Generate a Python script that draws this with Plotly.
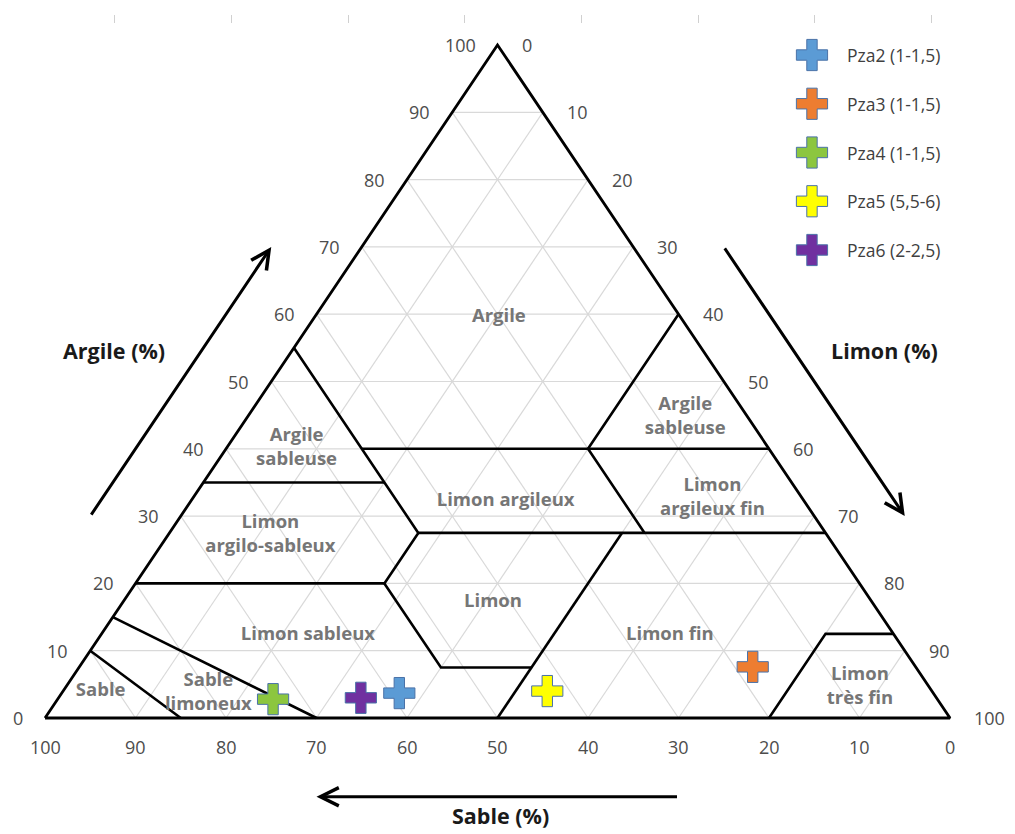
import plotly.graph_objects as go

# ---------------- data ----------------
sample_names = ["Pza2 (1-1,5)", "Pza3 (1-1,5)", "Pza4 (1-1,5)", "Pza5 (5,5-6)", "Pza6 (2-2,5)"]
sample_clay = [3.7, 7.6, 2.8, 4.0, 3.0]      # Argile (%)
sample_silt = [37.3, 74.4, 23.8, 53.5, 33.4]  # Limon (%)
sample_sand = [59.0, 18.0, 73.4, 42.5, 63.6]  # Sable (%)
sample_colors = ["#5B9BD5", "#ED7D31", "#8CC63F", "#FFFF00", "#7030A0"]

tick_values = [0, 10, 20, 30, 40, 50, 60, 70, 80, 90, 100]
grid_values = [10, 20, 30, 40, 50, 60, 70, 80, 90]

# texture-class boundaries, as (argile, limon) vertices
boundaries = [
    [(55, 0), (27.5, 27.5), (20, 27.5), (7.5, 40), (7.5, 50)],
    [(0, 50), (27.5, 50)],
    [(27.5, 27.5), (27.5, 72.5)],
    [(40, 15), (40, 60)],
    [(60, 40), (40, 40), (27.5, 52.5)],
    [(35, 0), (35, 20)],
    [(20, 0), (20, 27.5)],
    [(15, 0), (0, 30)],
    [(10, 0), (0, 15)],
    [(0, 80), (12.5, 80), (12.5, 87.5)],
]
outline = [(0, 0), (100, 0), (0, 100), (0, 0)]

# class names and their (argile, limon) anchor
class_labels = ["Argile", "Argile<br>sableuse", "Argile<br>sableuse", "Limon argileux",
                "Limon<br>argileux fin", "Limon<br>argilo-sableux", "Limon sableux", "Limon",
                "Limon fin", "Limon<br>très fin", "Sable", "Sable<br>limoneux"]
class_clay = [59.5, 40, 44.7, 32.2, 32.7, 27.2, 12.3, 17.2, 12.3, 4.5, 3.9, 3.7]
class_silt = [20.4, 7.8, 48.4, 34.8, 57.4, 11.3, 22.9, 40.9, 62.9, 87.8, 4.2, 16.2]


def tern(clay, silt):
    """ternary (argile, limon) in % -> cartesian x, y"""
    return (silt + clay / 2.0) / 100.0, clay / 100.0


FIG_W, FIG_H = 1007, 826   # page body has an 8 px margin
OFF = 8

fig = go.Figure()

# grid
gx, gy = [], []
for v in grid_values:
    for a, b in [((v, 0), (v, 100 - v)),          # argile constant
                 ((0, v), (100 - v, v)),          # limon constant
                 ((0, 100 - v), (100 - v, 0))]:   # sable constant
        x0, y0 = tern(*a)
        x1, y1 = tern(*b)
        gx += [x0, x1, None]
        gy += [y0, y1, None]
fig.add_trace(go.Scatter(x=gx, y=gy, mode="lines", line=dict(color="#d9d9d9", width=1.2),
                         hoverinfo="skip", showlegend=False))

# class boundaries
bx, by = [], []
for poly in boundaries:
    for c, s in poly:
        x, y = tern(c, s)
        bx.append(x)
        by.append(y)
    bx.append(None)
    by.append(None)
fig.add_trace(go.Scatter(x=bx, y=by, mode="lines", line=dict(color="black", width=2.6),
                         hoverinfo="skip", showlegend=False))

ox, oy = zip(*[tern(c, s) for c, s in outline])
fig.add_trace(go.Scatter(x=list(ox), y=list(oy), mode="lines", line=dict(color="black", width=2.8),
                         hoverinfo="skip", showlegend=False))

# class labels
lx, ly = zip(*[tern(c, s) for c, s in zip(class_clay, class_silt)])
fig.add_trace(go.Scatter(x=list(lx), y=list(ly), mode="text", text=class_labels,
                         textfont=dict(family="Open Sans", size=18.5, color="#767676", weight="bold"),
                         hoverinfo="skip", showlegend=False))

# samples
for name, c, s, col in zip(sample_names, sample_clay, sample_silt, sample_colors):
    x, y = tern(c, s)
    fig.add_trace(go.Scatter(x=[x], y=[y], mode="markers", name=name,
                             marker=dict(symbol="cross", size=26, color=col,
                                         line=dict(color="#4a72a8", width=1)),
                             showlegend=False))

# custom legend (on its own axes)
fig.add_trace(go.Scatter(x=[0] * len(sample_names), y=sample_names, mode="markers",
                         xaxis="x2", yaxis="y2",
                         marker=dict(symbol="cross", size=26, color=sample_colors,
                                     line=dict(color="#4a72a8", width=1)),
                         hoverinfo="skip", showlegend=False))

annotations = []
for name in sample_names:
    annotations.append(dict(x=1.3, y=name, xref="x2", yref="y2", text=name, showarrow=False,
                            xanchor="left", yanchor="middle",
                            font=dict(family="Open Sans", size=17.5, color="#404040")))

tick_font = dict(family="Open Sans", size=18, color="#4d4d4d")
for v in tick_values:
    # argile (left side)
    x, y = tern(v, 0)
    annotations.append(dict(x=x, y=y, xref="x", yref="y", text=str(v), showarrow=False,
                            xanchor="right", yanchor="middle", xshift=-20, font=tick_font))
    # limon (right side)
    x, y = tern(100 - v, v)
    annotations.append(dict(x=x, y=y, xref="x", yref="y", text=str(v), showarrow=False,
                            xanchor="left", yanchor="middle", xshift=22, font=tick_font))
    # sable (bottom)
    x, y = tern(0, 100 - v)
    annotations.append(dict(x=x, y=y, xref="x", yref="y", text=str(v), showarrow=False,
                            xanchor="center", yanchor="top", yshift=-15, font=tick_font))

# direction arrows
arrow_offset = -10  # percent outside the triangle
arrows = [
    (tern(70, arrow_offset), tern(30, arrow_offset)),                       # argile
    (tern(30, 100 - 30 - arrow_offset), tern(70, 100 - 70 - arrow_offset)),  # limon
    ((1 - 70 / 100.0, -0.117), (1 - 30 / 100.0, -0.117)),                   # sable
]
for (hx, hy), (tx, ty) in arrows:
    annotations.append(dict(x=hx, y=hy, ax=tx, ay=ty, xref="x", yref="y", axref="x", ayref="y",
                            text="", showarrow=True, arrowhead=5, arrowsize=1.2, arrowwidth=3,
                            arrowcolor="black", standoff=0, startstandoff=0))

title_font = dict(family="Open Sans", size=21.5, color="#1a1a1a", weight="bold")
for txt, px, py in [("Argile (%)", 114, 350), ("Limon (%)", 884, 350), ("Sable (%)", 500, 815)]:
    annotations.append(dict(x=(px - OFF) / float(FIG_W), y=(834 - py) / 810.0,
                            xref="paper", yref="paper",
                            text=txt, showarrow=False, xanchor="center", yanchor="middle",
                            borderpad=0, font=title_font))

fig.update_layout(
    width=FIG_W, height=FIG_H,
    margin=dict(l=0, r=0, t=16, b=0),
    paper_bgcolor="white", plot_bgcolor="white",
    showlegend=False,
    xaxis=dict(range=[-37 / 905.0, 970 / 905.0], showgrid=False, zeroline=False, showline=False,
               side="top", ticks="outside", ticklen=8, tickwidth=1, tickcolor="#d0d0d0",
               tick0=0.0773, dtick=0.1289, showticklabels=False, fixedrange=True),
    yaxis=dict(range=[-116 / 673.0, 694 / 673.0], visible=False, fixedrange=True),
    xaxis2=dict(domain=[0.748, 1.0], range=[-2, 8], anchor="y2", visible=False, fixedrange=True),
    yaxis2=dict(domain=[0.6909, 0.9918], anchor="x2", type="category",
                categoryorder="array", categoryarray=sample_names,
                range=[len(sample_names) - 0.5, -0.5], visible=False, fixedrange=True),
    annotations=annotations,
)

fig.write_html("out.html")
